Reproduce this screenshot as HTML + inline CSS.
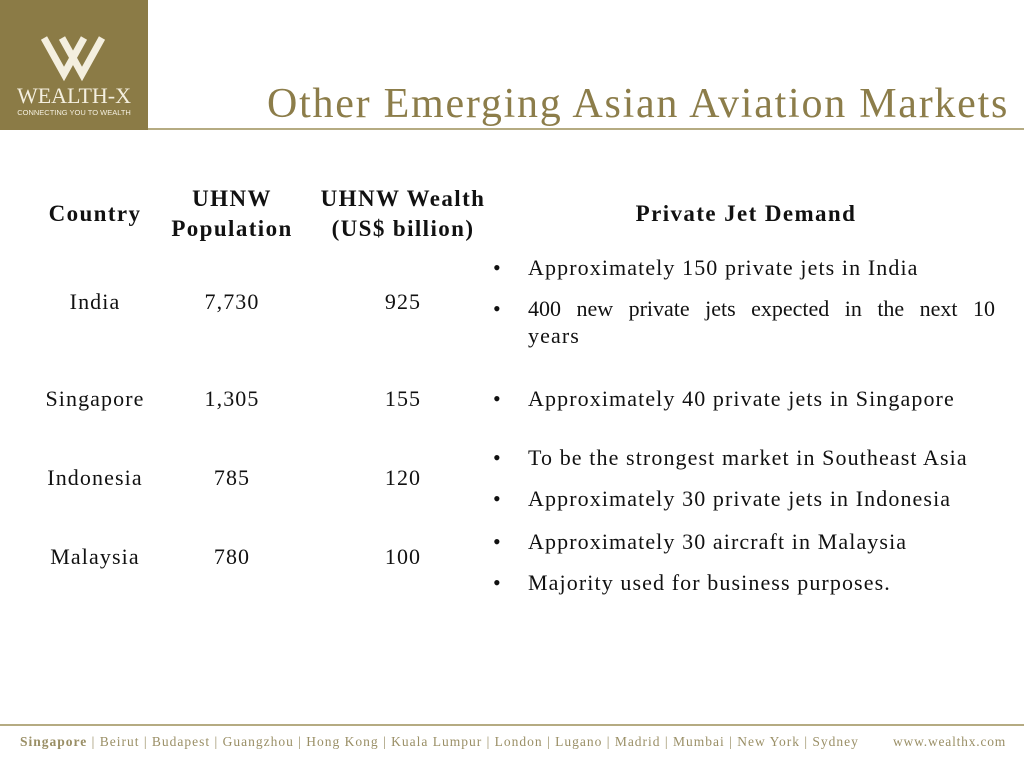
<!DOCTYPE html>
<html><head><meta charset="utf-8"><style>
body{margin:0;width:1024px;height:768px;background:#fff;position:relative;overflow:hidden;font-family:"Liberation Serif",serif;color:#111}
.a{position:absolute;white-space:nowrap}
.h{font-weight:bold;font-size:23px;letter-spacing:1.4px;text-align:center;line-height:30px}
.c{font-size:22px;letter-spacing:1.1px;text-align:center;width:160px}
.b{font-size:22px;letter-spacing:1.1px;left:493px}
.b span{position:absolute;left:35px}
</style></head><body>
<div class="a" style="left:0;top:0;width:148px;height:130px;background:#8b7b46">
<svg width="148" height="130"><g stroke="#f4efdf" stroke-width="7" fill="none"><path d="M44 38 L64 74 L84 38"/><path d="M62 38 L82 74 L102 38"/></g>
<text x="74" y="103" text-anchor="middle" fill="#f4efdf" font-family="Liberation Serif" font-size="22">WEALTH-X</text>
<text x="74" y="115" text-anchor="middle" fill="#f4efdf" font-family="Liberation Sans" font-size="7.5">CONNECTING YOU TO WEALTH</text></svg></div>
<div class="a" style="left:267px;top:80px;font-size:42px;letter-spacing:1.75px;color:#8c7d4a">Other Emerging Asian Aviation Markets</div>
<div class="a" style="left:148px;top:128px;width:876px;height:2px;background:#b5ab82"></div>
<div class="a h" style="left:15px;top:199px;width:160px">Country</div>
<div class="a h" style="left:152px;top:184px;width:160px">UHNW<br>Population</div>
<div class="a h" style="left:303px;top:184px;width:200px">UHNW Wealth<br>(US$ billion)</div>
<div class="a h" style="left:596px;top:199px;width:300px">Private Jet Demand</div>
<div class="a c" style="left:15px;top:289px">India</div>
<div class="a c" style="left:152px;top:289px">7,730</div>
<div class="a c" style="left:323px;top:289px">925</div>
<div class="a c" style="left:15px;top:386px">Singapore</div>
<div class="a c" style="left:152px;top:386px">1,305</div>
<div class="a c" style="left:323px;top:386px">155</div>
<div class="a c" style="left:15px;top:465px">Indonesia</div>
<div class="a c" style="left:152px;top:465px">785</div>
<div class="a c" style="left:323px;top:465px">120</div>
<div class="a c" style="left:15px;top:544px">Malaysia</div>
<div class="a c" style="left:152px;top:544px">780</div>
<div class="a c" style="left:323px;top:544px">100</div>
<div class="a b" style="top:255px">•<span>Approximately 150 private jets in India</span></div>
<div class="a b" style="top:296px">•<span style="width:467px;white-space:normal;text-align:justify;text-align-last:justify;letter-spacing:0;line-height:28px;top:-1px">400 new private jets expected in the next 10</span></div>
<div class="a b" style="top:323px;left:528px">years</div>
<div class="a b" style="top:386px">•<span>Approximately 40 private jets in Singapore</span></div>
<div class="a b" style="top:445px">•<span>To be the strongest market in Southeast Asia</span></div>
<div class="a b" style="top:486px">•<span>Approximately 30 private jets in Indonesia</span></div>
<div class="a b" style="top:529px">•<span>Approximately 30 aircraft in Malaysia</span></div>
<div class="a b" style="top:570px">•<span>Majority used for business purposes.</span></div>
<div class="a" style="left:0;top:724px;width:1024px;height:2px;background:#b5ab82"></div>
<div class="a" style="left:20px;top:734px;font-size:13.5px;letter-spacing:1px;color:#9a8f66"><b>Singapore</b> | Beirut | Budapest | Guangzhou | Hong Kong | Kuala Lumpur | London | Lugano | Madrid | Mumbai | New York | Sydney</div>
<div class="a" style="left:893px;top:734px;font-size:13.5px;letter-spacing:0.8px;color:#9a8f66">www.wealthx.com</div>
</body></html>
